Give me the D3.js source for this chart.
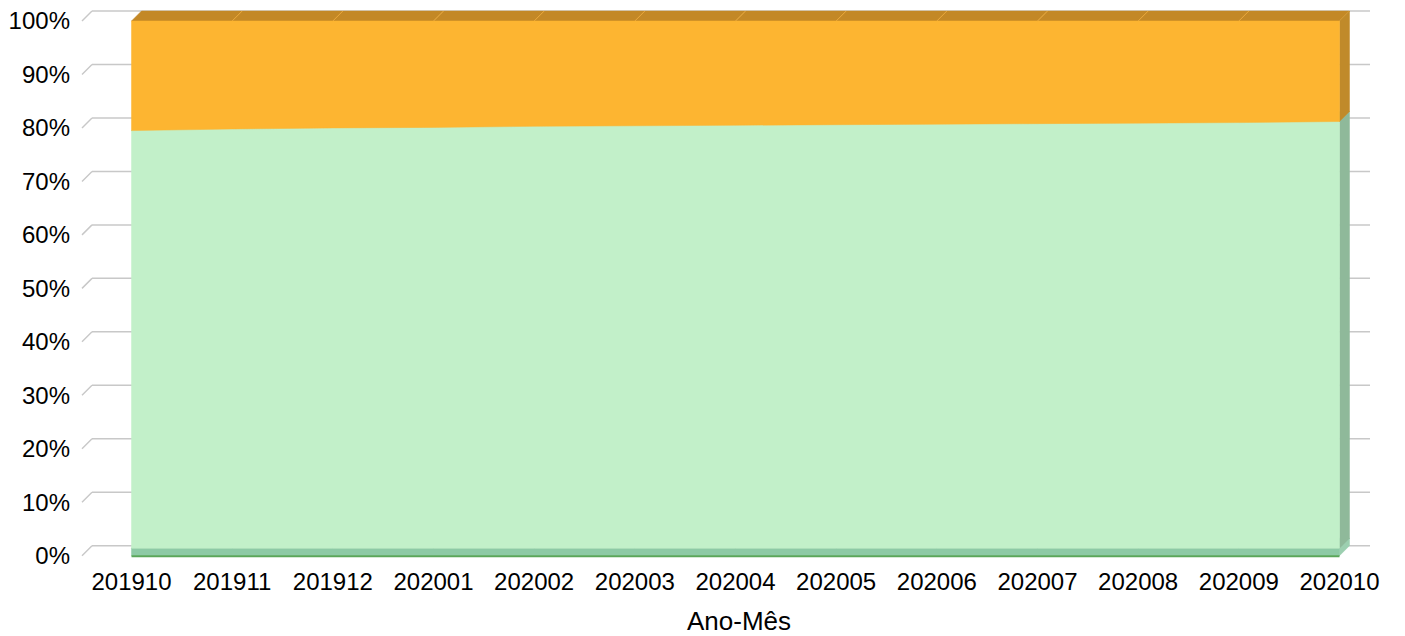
<!DOCTYPE html>
<html>
<head>
<meta charset="utf-8">
<script src="https://cdn.jsdelivr.net/npm/d3@7"></script>
<style>
  html, body { margin: 0; padding: 0; background: #fff; }
  svg { display: block; font-family: "Liberation Sans", Arial, sans-serif; }
</style>
</head>
<body>
<svg id="chart"></svg>
<script>
// categories (Ano-Mês)
var categories = ['201910', '201911', '201912', '202001', '202002', '202003', '202004',
                  '202005', '202006', '202007', '202008', '202009', '202010'];

// series values, percent of total
var serieBase    = [1.4, 1.4, 1.4, 1.4, 1.4, 1.4, 1.4, 1.4, 1.4, 1.4, 1.4, 1.4, 1.4];
var serieVerde   = [78.1, 78.4, 78.6, 78.7, 78.9, 79.0, 79.1, 79.2, 79.3, 79.4, 79.5, 79.6, 79.8];
var serieLaranja = [20.5, 20.2, 20.0, 19.9, 19.7, 19.6, 19.5, 19.4, 19.3, 19.2, 19.1, 19.0, 18.8];

var yTicks = [0, 10, 20, 30, 40, 50, 60, 70, 80, 90, 100];

var config = {
    width: 1405,
    height: 636,
    depth: 10,
    fontSize: 24,
    titleSize: 26,
    grid: '#c8c8c8',
    colors: {
        base:    { front: '#8dcaa5', top: '#7dbb95', side: '#9ccfb0', edge: '#5aa65a' },
        verde:   { front: '#c2f0c9', top: '#a6d8b0', side: '#8fb99a' },
        laranja: { front: '#fdb531', top: '#c38826', side: '#c08a2a', seam: '#eaa83a' }
    }
};

var rows = categories.map(function(c, i) {
    return { cat: c, base: serieBase[i], verde: serieVerde[i], laranja: serieLaranja[i] };
});
var keys = ['base', 'verde', 'laranja'];
var layers = d3.stack().keys(keys)(rows);

var svg = d3.select('#chart')
    .attr('width', config.width)
    .attr('height', config.height);

var d = config.depth;

// front plane scales
var x = d3.scalePoint().domain(categories).range([131.5, 1339.5]);
var y = d3.scaleLinear().domain([0, 100]).range([555.7, 21]);

// back wall gridlines
var grid = svg.append('g');
yTicks.forEach(function(t) {
    var yb = y(t) - d;
    grid.append('line')
        .attr('x1', 92).attr('x2', 1370)
        .attr('y1', yb).attr('y2', yb)
        .attr('stroke', config.grid).attr('stroke-width', 1.5);
    grid.append('line')
        .attr('x1', 82).attr('y1', yb + d)
        .attr('x2', 92).attr('y2', yb)
        .attr('stroke', config.grid).attr('stroke-width', 1.5);
});

// y labels
svg.append('g').selectAll('text')
    .data(yTicks)
    .enter()
    .append('text')
    .attr('x', 70)
    .attr('y', function(t) { return y(t); })
    .attr('dy', '0.35em')
    .attr('text-anchor', 'end')
    .attr('font-size', config.fontSize)
    .attr('fill', '#000')
    .text(function(t) { return t + '%'; });

// x labels
svg.append('g').selectAll('text')
    .data(categories)
    .enter()
    .append('text')
    .attr('x', function(c) { return x(c); })
    .attr('y', 590)
    .attr('text-anchor', 'middle')
    .attr('font-size', config.fontSize)
    .attr('fill', '#000')
    .text(function(c) { return c; });

svg.append('text')
    .attr('x', 739)
    .attr('y', 630)
    .attr('text-anchor', 'middle')
    .attr('font-size', config.titleSize)
    .attr('fill', '#000')
    .text('Ano-Mês');

// 3D stacked areas
var plot = svg.append('g');
var last = categories[categories.length - 1];

layers.forEach(function(layer) {
    var col = config.colors[layer.key];

    // top face, one segment per interval
    for (var i = 0; i < layer.length - 1; i++) {
        var x0 = x(layer[i].data.cat), x1 = x(layer[i + 1].data.cat);
        var y0 = y(layer[i][1]), y1 = y(layer[i + 1][1]);
        plot.append('path')
            .attr('d', 'M' + x0 + ',' + y0 + 'L' + x1 + ',' + y1 +
                       'L' + (x1 + d) + ',' + (y1 - d) + 'L' + (x0 + d) + ',' + (y0 - d) + 'Z')
            .attr('fill', col.top)
            .attr('stroke', col.top).attr('stroke-width', 0.5);
    }
    if (col.seam) {
        layer.forEach(function(p, i) {
            if (i === 0) return;
            var xs = x(p.data.cat), ys = y(p[1]);
            plot.append('line')
                .attr('x1', xs).attr('y1', ys)
                .attr('x2', xs + d).attr('y2', ys - d)
                .attr('stroke', col.seam).attr('stroke-width', 1);
        });
    }

    // right side face
    var pe = layer[layer.length - 1];
    var xe = x(last), ylo = y(pe[0]), yhi = y(pe[1]);
    plot.append('path')
        .attr('d', 'M' + xe + ',' + ylo + 'L' + xe + ',' + yhi +
                   'L' + (xe + d) + ',' + (yhi - d) + 'L' + (xe + d) + ',' + (ylo - d) + 'Z')
        .attr('fill', col.side)
        .attr('stroke', col.side).attr('stroke-width', 0.5);

    // front face
    var area = d3.area()
        .x(function(p) { return x(p.data.cat); })
        .y0(function(p) { return y(p[0]); })
        .y1(function(p) { return y(p[1]); });
    plot.append('path')
        .datum(layer)
        .attr('d', area)
        .attr('fill', col.front)
        .attr('stroke', col.front).attr('stroke-width', 0.5);
});

// dark edge along the front baseline
plot.append('line')
    .attr('x1', x(categories[0])).attr('x2', x(last))
    .attr('y1', y(0) + 0.5).attr('y2', y(0) + 0.5)
    .attr('stroke', config.colors.base.edge).attr('stroke-width', 2);
</script>
</body>
</html>
